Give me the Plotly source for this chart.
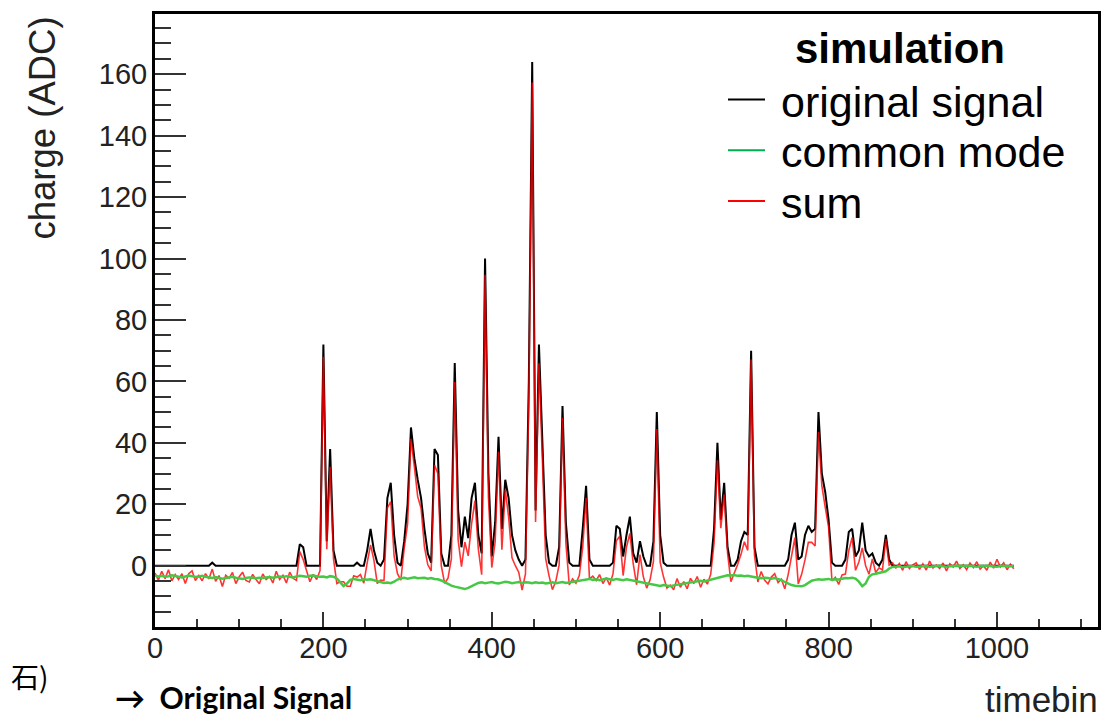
import plotly.graph_objects as go

# timebins sampled every 4 bins (0 .. 1020)
timebin = list(range(0, 1024, 4))

original_signal = [
    0, 0, 0, 0, 0, 0, 0, 0, 0, 0, 0, 0, 0, 0, 0, 0,
    0, 1, 0, 0, 0, 0, 0, 0, 0, 0, 0, 0, 0, 0, 0, 0,
    0, 0, 0, 0, 0, 0, 0, 0, 0, 0, 0, 7, 6, 0, 0, 0,
    0, 0, 72, 8, 38, 5, 0, 0, 0, 0, 0, 0, 1, 0, 0, 5,
    12, 5, 1, 0, 2, 22, 27, 10, 1, 0, 8, 20, 45, 35, 28, 22,
    12, 4, 1, 38, 36, 4, 0, 0, 10, 66, 18, 6, 16, 9, 22, 27,
    10, 4, 100, 30, 3, 14, 42, 12, 28, 22, 10, 5, 2, 0, 2, 60,
    164, 18, 72, 40, 10, 1, 0, 0, 6, 52, 14, 1, 0, 0, 0, 12,
    26, 2, 0, 0, 0, 0, 0, 0, 1, 13, 12, 3, 10, 16, 4, 1,
    8, 3, 0, 0, 8, 50, 10, 1, 0, 0, 0, 0, 0, 0, 0, 0,
    0, 0, 0, 0, 0, 0, 12, 40, 15, 27, 6, 0, 0, 2, 8, 11,
    10, 70, 6, 0, 0, 0, 0, 0, 0, 0, 0, 0, 2, 10, 14, 2,
    3, 10, 13, 11, 12, 50, 30, 24, 15, 1, 0, 0, 0, 2, 11, 12,
    3, 5, 14, 5, 3, 4, 1, 0, 2, 10, 2, 0, 0, 0, 0, 0,
    0, 0, 0, 0, 0, 0, 0, 0, 0, 0, 0, 0, 0, 0, 0, 0,
    0, 0, 0, 0, 0, 0, 0, 0, 0, 0, 0, 0, 0, 0, 0, 0,
]

common_mode = [
    -3.2, -3.5, -3.3, -3.6, -3.4, -3.1, -3.3, -3.6, -3.8, -3.5, -3.2, -3.4, -3.7, -3.5, -3.3, -3.6,
    -3.8, -4.0, -3.7, -3.9, -4.2, -4.0, -3.8, -3.6, -3.9, -4.1, -4.3, -4.0, -3.8, -3.9, -4.1, -3.9,
    -4.0, -3.8, -3.7, -3.9, -3.6, -3.5, -3.7, -3.4, -3.6, -3.8, -3.5, -3.3, -3.4, -3.6, -3.3, -3.2,
    -3.4, -3.6, -3.5, -3.8, -3.4, -3.6, -4.2, -5.5, -6.6, -5.8, -4.6, -4.3, -4.5, -4.7, -4.4, -4.6,
    -4.4, -4.7, -4.9, -5.3, -5.6, -5.5, -5.7, -5.2, -4.5, -4.1, -3.9, -4.2, -4.0, -3.8, -4.1, -4.0,
    -3.9, -4.2, -4.0, -4.3, -4.4, -4.8, -5.4, -6.0, -6.5, -6.8, -7.0, -7.3, -7.6, -7.2, -6.6, -6.0,
    -5.6, -5.4, -5.7, -5.5, -5.3, -5.6, -5.8, -5.5, -5.2, -5.4, -5.7, -5.5, -5.3, -5.6, -5.4, -5.5,
    -5.7, -5.4, -5.6, -5.5, -5.8, -5.6, -5.4, -5.7, -5.5, -5.3, -5.6, -5.4, -5.2, -5.0, -4.8, -4.6,
    -4.5, -4.3, -4.6, -4.4, -4.7, -4.5, -4.2, -4.4, -4.6, -4.3, -4.5, -4.7, -4.4, -4.6, -4.8, -5.0,
    -5.2, -5.5, -5.6, -5.9, -6.1, -6.4, -6.6, -6.3, -6.5, -6.7, -6.4, -6.2, -6.0, -5.8, -5.6, -5.3,
    -5.2, -5.0, -4.9, -5.1, -4.8, -4.6, -4.4, -4.1, -3.7, -3.3, -3.1, -3.2, -3.0, -3.3, -3.2, -3.4,
    -3.3, -3.5, -3.6, -3.9, -4.1, -3.9, -4.0, -4.2, -4.0, -4.3, -4.7, -5.3, -5.9, -6.3, -6.5, -6.6,
    -6.7, -6.3, -5.6, -4.9, -4.6, -4.4, -4.6, -4.5, -4.3, -4.6, -4.4, -4.5, -4.2, -4.0, -4.1, -3.9,
    -4.2, -5.2, -6.7, -5.8, -3.6, -2.8, -2.6, -2.4, -2.2, -1.8, -0.9, -0.4, -0.3, -0.2, -0.4, -0.3,
    -0.2, -0.1, -0.3, -0.2, 0.0, -0.1, -0.3, -0.2, -0.1, 0.0, -0.2, -0.3, -0.1, -0.2, 0.0, -0.1,
    -0.2, -0.1, 0.0, -0.2, -0.3, -0.1, -0.2, 0.0, -0.1, -0.2, -0.3, -0.1, 0.0, -0.2, -0.1, -0.2,
]

# electronic noise seen on the red (sum) trace, relative to signal + common mode
noise = [
    0.8, -1.2, 1.5, -0.6, 2.1, -1.8, 0.4, -0.9, 1.2, -2.3, 0.6, 1.7, -1.1, 0.3, -1.6, 1.0,
    -0.5, 1.9, -1.4, 0.7, -2.6, 0.9, -0.3, 1.4, -1.9, 0.5, 2.2, -0.8, -1.5, 1.1, -0.4, -2.0,
    1.3, -0.7, 0.2, -1.7, 1.8, -1.0, 0.6, -2.2, 1.5, -0.3, -1.3, 0.9, -0.6, 1.6, -1.9, 0.4,
    -1.1, 2.0, -0.5, 1.2, -2.4, 0.8, -1.6, 0.3, 1.4, -0.9, -2.1, 1.0, -0.2, 1.8, -1.3, 0.5,
    -0.8, 1.5, -1.9, 0.6, -1.2, 2.3, -0.4, -1.7, 0.9, -0.6, 1.6, -2.2, 0.3, 1.1, -1.4, 0.7,
    -2.0, 0.5, 1.3, -0.9, -1.6, 0.8, -0.3, 1.9, -1.2, 0.6, -2.5, 1.0, -0.7, 1.4, -1.8, 0.2,
    1.1, -1.5, 0.4, -2.1, 1.7, -0.6, 0.9, -1.3, 2.0, -0.8, -1.7, 0.5, 1.2, -2.3, 0.7, -0.4,
    -1.0, 1.6, -0.5, 0.8, -1.9, 1.3, -2.4, 0.6, -0.2, 1.5, -1.1, -1.8, 0.9, -0.7, 1.7, -1.4,
    0.6, -2.0, 1.2, -0.4, 1.8, -1.3, 0.3, -1.9, 1.0, -0.6, 2.1, -1.5, 0.5, -0.9, 1.4, -2.2,
    0.8, -1.1, -1.7, 1.3, -0.5, 0.9, -2.3, 1.6, -0.8, 0.4, -1.4, 2.0, -1.0, 0.6, -1.9, 1.2,
    -0.6, 1.5, -2.1, 0.7, -1.2, 1.8, -0.3, -1.6, 0.9, -0.5, 1.3, -2.0, 0.4, 1.7, -1.1, 0.2,
    -1.7, 0.6, 1.1, -1.4, 2.2, -0.8, -1.9, 0.5, 1.4, -1.2, 0.3, -2.2, 1.0, -0.5, 1.6, -1.3,
    0.9, -1.8, 0.2, 1.5, -1.0, -2.1, 0.7, -0.4, 1.9, -1.3, 0.6, -1.6, 1.2, -0.7, -2.0, 1.1,
    -0.3, 1.4, -1.5, 0.8, -2.2, 1.0, -0.6, 1.7, -1.2, 0.5, -0.9, 1.3, -0.4, 0.9, -1.1, 1.6,
    -0.7, 0.4, 1.2, -1.0, 0.6, -1.3, 1.8, -0.5, 0.3, -0.9, 1.1, -1.4, 0.7, -0.2, 1.5, -0.8,
    0.5, -1.2, 0.9, -0.4, 1.6, -1.0, 0.2, -1.5, 1.3, -0.6, 2.4, -0.3, 1.0, -1.1, 0.6, -0.8,
]

sum_signal = [s + c + n for s, c, n in zip(original_signal, common_mode, noise)]

series_names = ["original signal", "common mode", "sum"]
series_colors = ["#000000", "#00b050", "#ff0000"]

fig = go.Figure()
fig.add_trace(go.Scatter(x=timebin, y=original_signal, mode="lines", name=series_names[0],
                         line=dict(color="black", width=2), showlegend=False))
fig.add_trace(go.Scatter(x=timebin, y=sum_signal, mode="lines", name=series_names[2],
                         line=dict(color="rgba(255,0,0,0.8)", width=1.6), showlegend=False))
fig.add_trace(go.Scatter(x=timebin, y=common_mode, mode="lines", name=series_names[1],
                         line=dict(color="#45c945", width=2.5), showlegend=False))

tick_font = dict(family="Liberation Sans, Arial, sans-serif", size=29, color="#222222")
fig.update_xaxes(range=[0, 1120], tick0=0, dtick=200, ticks="inside", ticklen=15, tickwidth=1.5,
                 tickcolor="#333333", minor=dict(dtick=50, ticks="inside", ticklen=8, tickwidth=1.5,
                                                 tickcolor="#333333"),
                 showline=True, linewidth=3, linecolor="black", mirror=True,
                 showgrid=False, zeroline=False, tickfont=tick_font, ticklabelstandoff=-7)
fig.update_yaxes(range=[-19.95, 179.6], tick0=0, dtick=20, ticks="inside", ticklen=31, tickwidth=1.5,
                 tickcolor="#333333", minor=dict(dtick=5, ticks="inside", ticklen=16, tickwidth=1.5,
                                                 tickcolor="#333333"),
                 showline=True, linewidth=3, linecolor="black", mirror=True,
                 showgrid=False, zeroline=False, tickfont=tick_font, ticklabelstandoff=-1)

# page has an 8px body margin; figure is sized so that it fits the 1115x728 window
OFF = 8
W, H = 1099, 712
X0, X1, Y0, Y1 = 155, 1098, 11, 627          # plot frame in window pixels
L, R = X0 - OFF, W - (X1 - OFF)
T, B = Y0 - OFF, H - (Y1 - OFF)
pw, ph = X1 - X0, Y1 - Y0

def px(xp):
    return (xp - X0) / pw

def py(yp):
    return (Y1 - yp) / ph

legend_font = dict(family="Liberation Sans, Arial, sans-serif", size=43, color="black")
annotations = [
    dict(text="charge (ADC)", x=px(42), y=py(13), xanchor="center", yanchor="top", textangle=-90,
         font=dict(family="Liberation Sans, Arial, sans-serif", size=36.5, color="#222222")),
    dict(text="timebin", x=px(1099), y=py(700), xanchor="right", yanchor="middle",
         font=dict(family="Liberation Sans, Arial, sans-serif", size=35, color="#222222")),
    dict(text="<b>→  Original Signal</b>", x=px(114), y=py(697), xanchor="left", yanchor="middle",
         font=dict(family="Lato, sans-serif", size=30, color="black")),
    dict(text="石)", x=px(10), y=py(676), xanchor="left",
         yanchor="middle", font=dict(family="Noto Sans CJK JP", size=28, color="black")),
    dict(text="<b>simulation</b>", x=px(900), y=py(46), xanchor="center", yanchor="middle",
         font=dict(family="Liberation Sans, Arial, sans-serif", size=42, color="black")),
]
legend_y = [99, 150, 201]
shapes = []
for name, color, yy in zip(series_names, series_colors, legend_y):
    annotations.append(dict(text=name, x=px(780), y=py(yy), xanchor="left", yanchor="middle",
                            font=legend_font))
    shapes.append(dict(type="line", xref="paper", yref="paper", x0=px(728), x1=px(765),
                       y0=py(yy - 2), y1=py(yy - 2), line=dict(color=color, width=2)))
for a in annotations:
    a.update(xref="paper", yref="paper", showarrow=False, borderpad=0)

fig.update_layout(width=W, height=H, margin=dict(l=L, r=R, t=T, b=B),
                  plot_bgcolor="white", paper_bgcolor="white",
                  annotations=annotations, shapes=shapes, showlegend=False)

fig.write_html("out.html")
